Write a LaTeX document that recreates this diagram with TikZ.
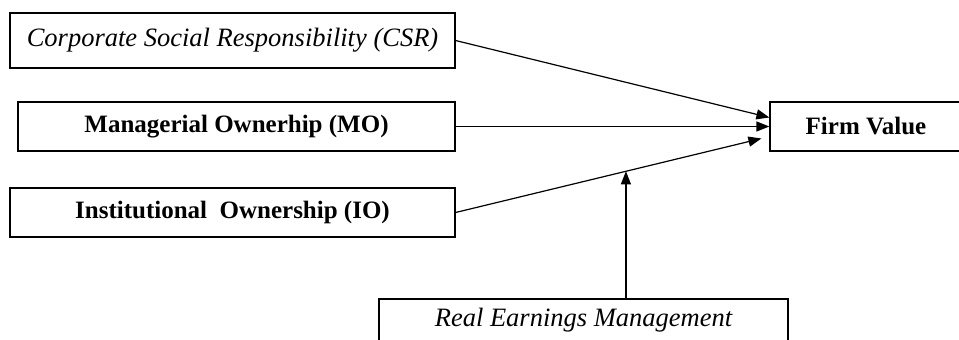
\documentclass[tikz,border=0pt]{standalone}
\usepackage{fontspec}
\setmainfont{Liberation Serif}
\usetikzlibrary{arrows.meta}

\begin{document}
\begin{tikzpicture}[>={Triangle[length=13pt, width=10pt]}, line width=1.2pt, x=1pt, y=-1pt,
        box/.style={draw, rectangle, inner sep=0pt, minimum height=49pt, font=\fontsize{25}{28}\selectfont},
        slanted/.style={font=\fontsize{26.5}{29}\selectfont\itshape}]
            \useasboundingbox (0, 0) rectangle (959, 340);
            \node[box, slanted, minimum width=445pt, minimum height=55pt] (csr) at (232.5, 40.5) {Corporate Social Responsibility (CSR)};
            \node[box, minimum width=437pt] (mo) at (236.5, 126.5) {\bfseries Managerial Ownerhip (MO)};
            \node[box, minimum width=445pt] (io) at (232.5, 212.5) {\bfseries Institutional\ \ Ownership (IO)};
            \node[box, minimum width=192pt] (fv) at (866, 126.5) {\bfseries Firm Value};
            \node[box, slanted, minimum width=409pt, minimum height=42pt] (rem) at (583.5, 320) {Real Earnings Management};
            % paths into firm value
            \draw[->] (csr.east) -- ([yshift=9pt]fv.west);
            \draw[->] (mo.east) -- (fv.west);
            \draw[->] (io.east) -- ([xshift=-8pt, yshift=-12pt]fv.west) coordinate[pos=0.557] (mod);
            % moderating effect
            \draw[->] (mod |- rem.north) -- (mod);
        \end{tikzpicture}
\end{document}
